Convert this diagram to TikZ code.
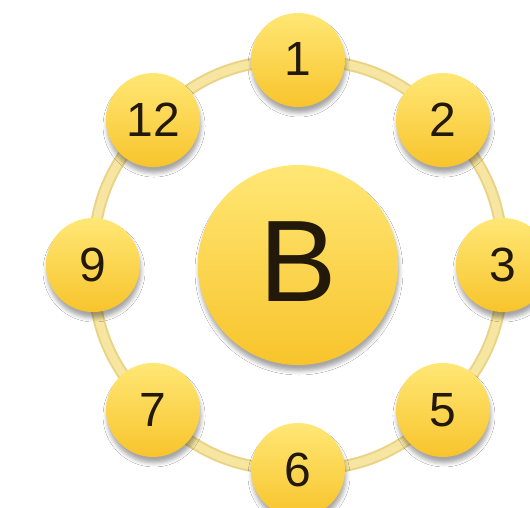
\documentclass[tikz,border=0pt]{standalone}
\usepackage{fontspec}
\setmainfont{Liberation Sans}
\usetikzlibrary{shadows.blur}
\definecolor{nodetop}{HTML}{FFE775}
\definecolor{nodebot}{HTML}{F8C42C}
\definecolor{ringout}{HTML}{EAD384}
\definecolor{ringin}{HTML}{F6E6A2}
\definecolor{txt}{HTML}{22190A}
\tikzset{
  x=1pt, y=1pt,
  ball/.style={circle, minimum size=94pt, inner sep=0pt,
    top color=nodetop, bottom color=nodebot, draw=none,
    blur shadow={shadow xshift=1pt, shadow yshift=-6pt, shadow blur radius=4pt, shadow opacity=35},
    text=txt, font=\fontsize{48}{48}\selectfont},
  bigball/.style={ball, minimum size=200pt, font=\fontsize{116}{116}\selectfont},
  ringline/.style={line width=12pt, ringout},
  ringinner/.style={line width=8pt, ringin},
}
\begin{document}
\begin{tikzpicture}
\useasboundingbox (0,0) rectangle (530,-508);
\fill[white] (0,0) rectangle (530,-508);
\coordinate (C) at (298,-265);
% ring positions
\path (C) ++(90:205) coordinate (p1);
\path (C) ++(45:205) coordinate (p2);
\path (C) ++(0:205) coordinate (p3);
\path (C) ++(-45:205) coordinate (p5);
\path (C) ++(-90:205) coordinate (p6);
\path (C) ++(-135:205) coordinate (p7);
\path (C) ++(180:205) coordinate (p9);
\path (C) ++(135:205) coordinate (p12);
% ring
\foreach \a/\b in {p1/p2,p2/p3,p3/p5,p5/p6,p6/p7,p7/p9,p9/p12,p12/p1}{
  \draw[ringline] (\a) to[bend left=22.5] (\b);
}
\foreach \a/\b in {p1/p2,p2/p3,p3/p5,p5/p6,p6/p7,p7/p9,p9/p12,p12/p1}{
  \draw[ringinner] (\a) to[bend left=22.5] (\b);
}
\node[bigball] (B) at (298,-265) {\raisebox{6pt}{B}};
\node[ball] (n1) at (p1) {\raisebox{3pt}{1}};
\node[ball] (n2) at (p2) {2};
\node[ball] (n3) at (p3) {3};
\node[ball] (n5) at (p5) {5};
\node[ball] (n6) at (p6) {6};
\node[ball] (n7) at (p7) {7};
\node[ball] (n9) at (p9) {9};
\node[ball] (n12) at (p12) {12};
\end{tikzpicture}
\end{document}
